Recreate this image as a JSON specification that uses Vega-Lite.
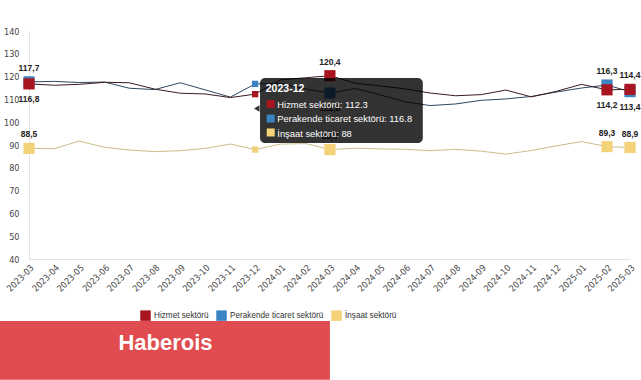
{
  "$schema": "https://vega.github.io/schema/vega-lite/v6.json",
  "width": 601,
  "height": 228,
  "autosize": {"type": "none"},
  "padding": {"left": 29, "top": 31, "right": 11, "bottom": 121},
  "background": "white",
  "config": {
    "locale": {"number": {"decimal": ",", "thousands": ".", "grouping": [3], "currency": ["", ""]}},
    "view": {"stroke": null},
    "font": "Liberation Sans Narrow, DejaVu Sans Condensed, Liberation Sans, sans-serif"
  },
  "data": {
    "format": {"parse": {"month": "date"}},
    "values": [
      {"month": "2023-03-01", "series": "Perakende ticaret sektörü", "value": 117.7},
      {"month": "2023-04-01", "series": "Perakende ticaret sektörü", "value": 117.9},
      {"month": "2023-05-01", "series": "Perakende ticaret sektörü", "value": 117.4},
      {"month": "2023-06-01", "series": "Perakende ticaret sektörü", "value": 117.6},
      {"month": "2023-07-01", "series": "Perakende ticaret sektörü", "value": 114.9},
      {"month": "2023-08-01", "series": "Perakende ticaret sektörü", "value": 114.3},
      {"month": "2023-09-01", "series": "Perakende ticaret sektörü", "value": 117.3},
      {"month": "2023-10-01", "series": "Perakende ticaret sektörü", "value": 114.2},
      {"month": "2023-11-01", "series": "Perakende ticaret sektörü", "value": 111.0},
      {"month": "2023-12-01", "series": "Perakende ticaret sektörü", "value": 116.8},
      {"month": "2024-01-01", "series": "Perakende ticaret sektörü", "value": 117.0},
      {"month": "2024-02-01", "series": "Perakende ticaret sektörü", "value": 114.5},
      {"month": "2024-03-01", "series": "Perakende ticaret sektörü", "value": 112.8},
      {"month": "2024-04-01", "series": "Perakende ticaret sektörü", "value": 114.8},
      {"month": "2024-05-01", "series": "Perakende ticaret sektörü", "value": 112.0},
      {"month": "2024-06-01", "series": "Perakende ticaret sektörü", "value": 108.9},
      {"month": "2024-07-01", "series": "Perakende ticaret sektörü", "value": 107.3},
      {"month": "2024-08-01", "series": "Perakende ticaret sektörü", "value": 108.0},
      {"month": "2024-09-01", "series": "Perakende ticaret sektörü", "value": 109.6},
      {"month": "2024-10-01", "series": "Perakende ticaret sektörü", "value": 110.2},
      {"month": "2024-11-01", "series": "Perakende ticaret sektörü", "value": 111.3},
      {"month": "2024-12-01", "series": "Perakende ticaret sektörü", "value": 113.2},
      {"month": "2025-01-01", "series": "Perakende ticaret sektörü", "value": 115.0},
      {"month": "2025-02-01", "series": "Perakende ticaret sektörü", "value": 116.3},
      {"month": "2025-03-01", "series": "Perakende ticaret sektörü", "value": 113.4},
      {"month": "2023-03-01", "series": "İnşaat sektörü", "value": 88.5},
      {"month": "2023-04-01", "series": "İnşaat sektörü", "value": 88.4},
      {"month": "2023-05-01", "series": "İnşaat sektörü", "value": 91.7},
      {"month": "2023-06-01", "series": "İnşaat sektörü", "value": 89.0},
      {"month": "2023-07-01", "series": "İnşaat sektörü", "value": 87.8},
      {"month": "2023-08-01", "series": "İnşaat sektörü", "value": 87.1},
      {"month": "2023-09-01", "series": "İnşaat sektörü", "value": 87.5},
      {"month": "2023-10-01", "series": "İnşaat sektörü", "value": 88.5},
      {"month": "2023-11-01", "series": "İnşaat sektörü", "value": 90.4},
      {"month": "2023-12-01", "series": "İnşaat sektörü", "value": 88.0},
      {"month": "2024-01-01", "series": "İnşaat sektörü", "value": 90.4},
      {"month": "2024-02-01", "series": "İnşaat sektörü", "value": 90.6},
      {"month": "2024-03-01", "series": "İnşaat sektörü", "value": 88.0},
      {"month": "2024-04-01", "series": "İnşaat sektörü", "value": 88.6},
      {"month": "2024-05-01", "series": "İnşaat sektörü", "value": 88.3},
      {"month": "2024-06-01", "series": "İnşaat sektörü", "value": 88.1},
      {"month": "2024-07-01", "series": "İnşaat sektörü", "value": 87.5},
      {"month": "2024-08-01", "series": "İnşaat sektörü", "value": 88.1},
      {"month": "2024-09-01", "series": "İnşaat sektörü", "value": 87.3},
      {"month": "2024-10-01", "series": "İnşaat sektörü", "value": 86.0},
      {"month": "2024-11-01", "series": "İnşaat sektörü", "value": 87.6},
      {"month": "2024-12-01", "series": "İnşaat sektörü", "value": 89.6},
      {"month": "2025-01-01", "series": "İnşaat sektörü", "value": 91.5},
      {"month": "2025-02-01", "series": "İnşaat sektörü", "value": 89.3},
      {"month": "2025-03-01", "series": "İnşaat sektörü", "value": 88.9},
      {"month": "2023-03-01", "series": "Hizmet sektörü", "value": 116.8},
      {"month": "2023-04-01", "series": "Hizmet sektörü", "value": 116.2},
      {"month": "2023-05-01", "series": "Hizmet sektörü", "value": 116.6},
      {"month": "2023-06-01", "series": "Hizmet sektörü", "value": 117.5},
      {"month": "2023-07-01", "series": "Hizmet sektörü", "value": 117.3},
      {"month": "2023-08-01", "series": "Hizmet sektörü", "value": 114.5},
      {"month": "2023-09-01", "series": "Hizmet sektörü", "value": 112.7},
      {"month": "2023-10-01", "series": "Hizmet sektörü", "value": 112.4},
      {"month": "2023-11-01", "series": "Hizmet sektörü", "value": 110.8},
      {"month": "2023-12-01", "series": "Hizmet sektörü", "value": 112.3},
      {"month": "2024-01-01", "series": "Hizmet sektörü", "value": 118.6},
      {"month": "2024-02-01", "series": "Hizmet sektörü", "value": 119.5},
      {"month": "2024-03-01", "series": "Hizmet sektörü", "value": 120.4},
      {"month": "2024-04-01", "series": "Hizmet sektörü", "value": 117.1},
      {"month": "2024-05-01", "series": "Hizmet sektörü", "value": 115.9},
      {"month": "2024-06-01", "series": "Hizmet sektörü", "value": 114.6},
      {"month": "2024-07-01", "series": "Hizmet sektörü", "value": 112.8},
      {"month": "2024-08-01", "series": "Hizmet sektörü", "value": 111.6},
      {"month": "2024-09-01", "series": "Hizmet sektörü", "value": 112.1},
      {"month": "2024-10-01", "series": "Hizmet sektörü", "value": 114.1},
      {"month": "2024-11-01", "series": "Hizmet sektörü", "value": 111.1},
      {"month": "2024-12-01", "series": "Hizmet sektörü", "value": 113.5},
      {"month": "2025-01-01", "series": "Hizmet sektörü", "value": 116.6},
      {"month": "2025-02-01", "series": "Hizmet sektörü", "value": 114.2},
      {"month": "2025-03-01", "series": "Hizmet sektörü", "value": 114.4}
    ]
  },
  "encoding": {
    "x": {
      "field": "month", "type": "temporal",
      "scale": {"type": "utc", "domain": [{"year": 2023, "month": 3, "date": 1, "utc": true}, {"year": 2025, "month": 3, "date": 1, "utc": true}]},
      "axis": {"format": "%Y-%m", "tickCount": {"interval": "month", "step": 1}, "labelAngle": -45, "labelOverlap": false, "labelFlush": false, "ticks": false, "grid": false, "domainColor": "#e4e4e4", "labelFontSize": 9, "labelColor": "#444", "labelPadding": 4, "title": null}
    },
    "y": {
      "field": "value", "type": "quantitative",
      "scale": {"domain": [40, 140], "nice": false, "zero": false},
      "axis": {"values": [40, 50, 60, 70, 80, 90, 100, 110, 120, 130, 140], "ticks": false, "grid": false, "domainColor": "#e4e4e4", "labelFontSize": 9, "labelColor": "#444", "labelPadding": 10, "title": null}
    }
  },
  "layer": [
    {
      "mark": {"type": "line", "strokeWidth": 1},
      "encoding": {
        "stroke": {"field": "series", "type": "nominal", "sort": "ascending", "scale": {"range": ["#3a1a1f", "#2f4760", "#cbbd8c"]}, "legend": null}
      }
    },
    {
      "transform": [{"filter": "indexof(['2023-03','2024-03','2025-02','2025-03'], utcFormat(datum.month, '%Y-%m')) >= 0"}],
      "mark": {"type": "square", "size": 125, "opacity": 1},
      "encoding": {
        "color": {"field": "series", "type": "nominal", "scale": {"domain": ["Hizmet sektörü", "Perakende ticaret sektörü", "İnşaat sektörü"], "range": ["#A8141F", "#3B84C4", "#F4D27A"]},
          "legend": {"orient": "none", "legendX": 111, "legendY": 279, "direction": "horizontal", "title": null, "symbolType": "square", "symbolSize": 110, "symbolStrokeWidth": 0, "symbolOpacity": 1, "labelFontSize": 8.2, "labelFont": "Liberation Sans", "labelColor": "#333", "labelOffset": 3, "columnPadding": 7}}
      }
    },
    {
      "transform": [{"filter": "utcFormat(datum.month, '%Y-%m') == '2023-12'"}],
      "mark": {"type": "square", "size": 40, "opacity": 1},
      "encoding": {"color": {"field": "series", "type": "nominal"}}
    },
    {
      "transform": [
        {"filter": "indexof(['2023-03','2024-03','2025-02','2025-03'], utcFormat(datum.month, '%Y-%m')) >= 0"},
        {"joinaggregate": [{"op": "max", "field": "value", "as": "mx"}], "groupby": ["month"]},
        {"filter": "datum.value == datum.mx || datum.series == 'İnşaat sektörü'"}
      ],
      "mark": {"type": "text", "dy": -14, "fontWeight": "bold", "fontSize": 8.5, "fill": "#222", "font": "Liberation Sans"},
      "encoding": {"text": {"field": "value", "type": "quantitative", "format": ".1f"}}
    },
    {
      "transform": [
        {"filter": "indexof(['2023-03','2024-03','2025-02','2025-03'], utcFormat(datum.month, '%Y-%m')) >= 0"},
        {"joinaggregate": [{"op": "max", "field": "value", "as": "mx"}], "groupby": ["month"]},
        {"filter": "datum.value != datum.mx && datum.series != 'İnşaat sektörü'"}
      ],
      "mark": {"type": "text", "dy": 15, "fontWeight": "bold", "fontSize": 8.5, "fill": "#222", "font": "Liberation Sans"},
      "encoding": {"text": {"field": "value", "type": "quantitative", "format": ".1f"}}
    },
    {
      "transform": [{"filter": "utcFormat(datum.month, '%Y-%m') == '2023-12' && datum.series == 'Hizmet sektörü'"}],
      "mark": {"type": "rect", "fill": "black", "fillOpacity": 0.8, "cornerRadius": 5},
      "encoding": {
        "x": {"datum": {"year": 2023, "month": 12, "date": 7, "utc": true}},
        "x2": {"datum": {"year": 2024, "month": 6, "date": 22, "utc": true}},
        "y": {"datum": 119.4},
        "y2": {"datum": 90.9}
      }
    },
    {
      "transform": [{"filter": "utcFormat(datum.month, '%Y-%m') == '2023-12' && datum.series == 'Hizmet sektörü'"}],
      "mark": {"type": "point", "shape": "triangle-left", "filled": true, "fill": "black", "fillOpacity": 0.8, "size": 40, "strokeWidth": 0},
      "encoding": {
        "x": {"datum": {"year": 2023, "month": 12, "date": 3, "utc": true}},
        "y": {"datum": 106}
      }
    },
    {
      "transform": [
        {"filter": "utcFormat(datum.month, '%Y-%m') == '2023-12' && datum.series == 'Hizmet sektörü'"},
        {"calculate": "utcFormat(datum.month, '%Y-%m')", "as": "ttl"}
      ],
      "mark": {"type": "text", "align": "left", "baseline": "alphabetic", "fill": "white", "fontWeight": "bold", "fontSize": 10.5, "font": "Liberation Sans"},
      "encoding": {
        "x": {"datum": {"year": 2023, "month": 12, "date": 14, "utc": true}},
        "y": {"datum": 113.2},
        "text": {"field": "ttl"}
      }
    },
    {
      "transform": [{"filter": "utcFormat(datum.month, '%Y-%m') == '2023-12' && datum.series == 'Hizmet sektörü'"}],
      "mark": {"type": "square", "size": 64, "opacity": 1},
      "encoding": {"x": {"datum": {"year": 2023, "month": 12, "date": 20, "utc": true}}, "y": {"datum": 108.0}, "color": {"field": "series", "type": "nominal"}}
    },
    {
      "transform": [{"filter": "utcFormat(datum.month, '%Y-%m') == '2023-12' && datum.series == 'Perakende ticaret sektörü'"}],
      "mark": {"type": "square", "size": 64, "opacity": 1},
      "encoding": {"x": {"datum": {"year": 2023, "month": 12, "date": 20, "utc": true}}, "y": {"datum": 101.6}, "color": {"field": "series", "type": "nominal"}}
    },
    {
      "transform": [{"filter": "utcFormat(datum.month, '%Y-%m') == '2023-12' && datum.series == 'İnşaat sektörü'"}],
      "mark": {"type": "square", "size": 64, "opacity": 1},
      "encoding": {"x": {"datum": {"year": 2023, "month": 12, "date": 20, "utc": true}}, "y": {"datum": 95.5}, "color": {"field": "series", "type": "nominal"}}
    },
    {
      "transform": [
        {"filter": "utcFormat(datum.month, '%Y-%m') == '2023-12' && datum.series == 'Hizmet sektörü'"},
        {"calculate": "datum.series + ': ' + datum.value", "as": "tt"}
      ],
      "mark": {"type": "text", "align": "left", "baseline": "alphabetic", "fill": "white", "fontSize": 9.4, "font": "Liberation Sans"},
      "encoding": {"x": {"datum": {"year": 2023, "month": 12, "date": 28, "utc": true}}, "y": {"datum": 106.2}, "text": {"field": "tt"}}
    },
    {
      "transform": [
        {"filter": "utcFormat(datum.month, '%Y-%m') == '2023-12' && datum.series == 'Perakende ticaret sektörü'"},
        {"calculate": "datum.series + ': ' + datum.value", "as": "tt"}
      ],
      "mark": {"type": "text", "align": "left", "baseline": "alphabetic", "fill": "white", "fontSize": 9.4, "font": "Liberation Sans"},
      "encoding": {"x": {"datum": {"year": 2023, "month": 12, "date": 28, "utc": true}}, "y": {"datum": 99.9}, "text": {"field": "tt"}}
    },
    {
      "transform": [
        {"filter": "utcFormat(datum.month, '%Y-%m') == '2023-12' && datum.series == 'İnşaat sektörü'"},
        {"calculate": "datum.series + ': ' + datum.value", "as": "tt"}
      ],
      "mark": {"type": "text", "align": "left", "baseline": "alphabetic", "fill": "white", "fontSize": 9.4, "font": "Liberation Sans"},
      "encoding": {"x": {"datum": {"year": 2023, "month": 12, "date": 28, "utc": true}}, "y": {"datum": 93.7}, "text": {"field": "tt"}}
    },
    {
      "transform": [{"filter": "utcFormat(datum.month, '%Y-%m') == '2023-12' && datum.series == 'Hizmet sektörü'"}],
      "mark": {"type": "rect", "fill": "#E04C4F"},
      "encoding": {
        "x": {"datum": {"year": 2023, "month": 1, "date": 24, "utc": true}},
        "x2": {"datum": {"year": 2024, "month": 3, "date": 1, "utc": true}},
        "y": {"datum": 12.8},
        "y2": {"datum": -13}
      }
    },
    {
      "transform": [{"filter": "utcFormat(datum.month, '%Y-%m') == '2023-12' && datum.series == 'Hizmet sektörü'"}],
      "mark": {"type": "text", "text": "Haberois", "fill": "white", "fontWeight": "bold", "fontSize": 22, "font": "Liberation Sans", "align": "center", "baseline": "middle"},
      "encoding": {
        "x": {"datum": {"year": 2023, "month": 8, "date": 14, "utc": true}},
        "y": {"datum": 3.0}
      }
    }
  ]
}
